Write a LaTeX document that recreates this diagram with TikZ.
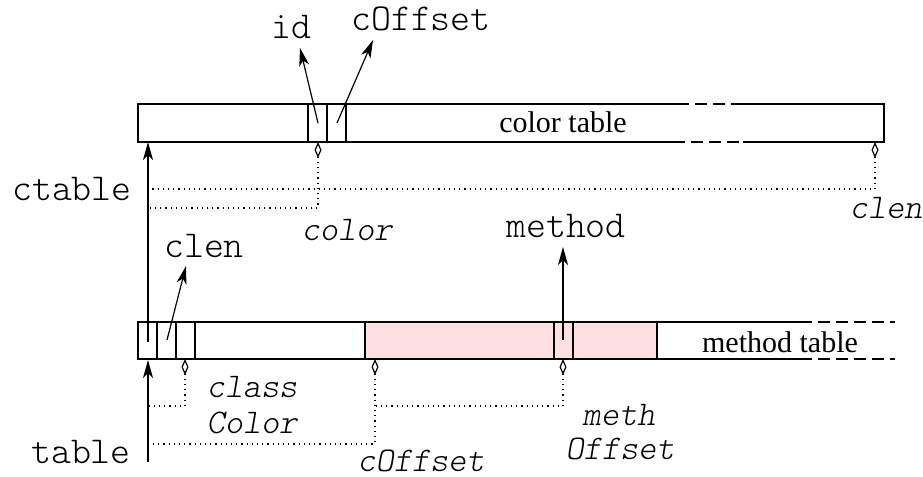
\documentclass[tikz,border=0pt]{standalone}
\usepackage{fontspec}
\setmainfont{Liberation Serif}
\setmonofont{Latin Modern Mono Light}
\usetikzlibrary{arrows.meta}

\definecolor{methpink}{RGB}{255,224,225}

\tikzset{
  ptr/.style={-{Stealth[length=9pt,width=5pt,inset=2.5pt]}, line width=0.6pt},
  offs/.style={dotted, line width=0.6pt, {Diamond[open,length=8pt,width=3.5pt]}-},
  gap/.style={dash pattern=on 6pt off 3pt},
  lbl/.style={font=\fontsize{19}{19}\selectfont\ttfamily, anchor=base, inner sep=0pt},
  ilbl/.style={font=\fontsize{17.3}{17.3}\selectfont\ttfamily\itshape, anchor=base, inner sep=0pt},
  tname/.style={font=\fontsize{15}{15}\selectfont, anchor=base, inner sep=0pt},
}

\begin{document}
\begin{tikzpicture}[x=0.5pt, y=-0.5pt, line width=0.6pt]
    \useasboundingbox (0, 0) rectangle (923, 477);

    % color table
    \draw (677, 104) -- (138, 104) -- (138, 142) -- (673, 142);
    \draw (733, 104) -- (884, 104) -- (884, 142) -- (743, 142);
    \draw[gap] (677, 104) -- (733, 104);
    \draw[gap] (673, 142) -- (743, 142);
    \draw (308, 104) rectangle (346, 142);
    \draw (327, 104) -- (327, 142);
    \node[tname] (ctname) at (563, 132) {color table};

    % method table
    \fill[methpink] (365, 322) rectangle (657, 359);
    \draw (800, 322) -- (138, 322) -- (138, 359) -- (800, 359);
    \draw[gap] (800, 322) -- (895, 322);
    \draw[gap] (800, 359) -- (895, 359);
    \foreach \x in {157, 176, 195, 365, 554, 573, 657}
        \draw (\x, 322) -- (\x, 359);
    \node[tname] (mtname) at (780, 352) {method table};

    % pointer ends
    \coordinate (id-from) at (318, 123);
    \coordinate (id-to) at (300, 48);
    \coordinate (co-from) at (337, 123);
    \coordinate (co-to) at (373, 40);
    \coordinate (ct-from) at (148, 342);
    \coordinate (ct-to) at (148, 142);
    \coordinate (cl-from) at (167, 340);
    \coordinate (cl-to) at (186, 266);
    \coordinate (me-from) at (563, 340);
    \coordinate (me-to) at (563, 247);
    \coordinate (tb-from) at (148, 462);
    \coordinate (tb-to) at (148, 360);

    \draw[ptr] (id-from) -- (id-to);
    \draw[ptr] (co-from) -- (co-to);
    \draw[ptr] (ct-from) -- (ct-to);
    \draw[ptr] (cl-from) -- (cl-to);
    \draw[ptr] (me-from) -- (me-to);
    \draw[ptr] (tb-from) -- (tb-to);

    \node[lbl] (id) at (291, 38) {id};
    \node[lbl] (coff) at (421, 30) {cOffset};
    \node[lbl] (ctable) at (72, 200) {ctable};
    \node[lbl] (clen) at (204, 257) {clen};
    \node[lbl] (method) at (566, 237) {method};
    \node[lbl] (table) at (81, 463) {table};

    % offsets
    \coordinate (color-at) at (318, 142);
    \coordinate (color-bend) at (318, 208);
    \coordinate (color-end) at (148, 208);
    \coordinate (clen-at) at (875, 142);
    \coordinate (clen-bend) at (875, 189);
    \coordinate (clen-end) at (148, 189);
    \coordinate (cc-at) at (185, 359);
    \coordinate (cc-bend) at (185, 406);
    \coordinate (cc-end) at (148, 406);
    \coordinate (cof-at) at (375, 359);
    \coordinate (cof-bend) at (375, 444);
    \coordinate (cof-end) at (148, 444);
    \coordinate (mo-at) at (563, 359);
    \coordinate (mo-bend) at (563, 406);
    \coordinate (mo-end) at (375, 406);

    \draw[offs] (color-at) -- (color-bend) -- (color-end);
    \draw[offs] (clen-at) -- (clen-bend) -- (clen-end);
    \draw[offs] (cc-at) -- (cc-bend) -- (cc-end);
    \draw[offs] (cof-at) -- (cof-bend) -- (cof-end);
    \draw[offs] (mo-at) -- (mo-bend) -- (mo-end);

    \node[ilbl] (color) at (347, 240) {color};
    \node[ilbl] (clenoff) at (886, 218) {clen};
    \node[ilbl] (class) at (252, 397) {class};
    \node[ilbl] (Color) at (252, 433) {Color};
    \node[ilbl] (coffoff) at (421, 471) {cOffset};
    \node[ilbl] (meth) at (619, 425) {meth};
    \node[ilbl] (Offset) at (620, 459) {Offset};
\end{tikzpicture}
\end{document}
